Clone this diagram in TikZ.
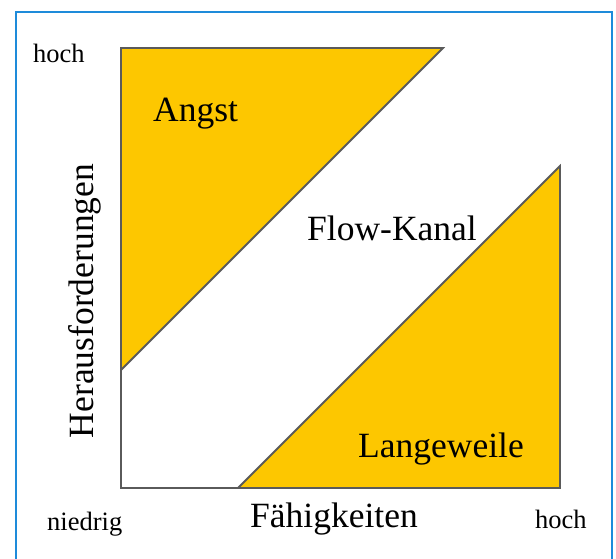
\documentclass[tikz,border=0pt]{standalone}
\usepackage{fontspec}
\setmainfont{Liberation Serif}
\definecolor{flowyellow}{HTML}{FDC700}
\definecolor{edgegray}{HTML}{5A5A5A}
\definecolor{framblue}{HTML}{1E8BDA}
\begin{document}
\begin{tikzpicture}[x=1pt,y=-1pt,
  zone/.style={fill=flowyellow,draw=edgegray,line width=1.8pt,line join=miter},
  axisline/.style={draw=edgegray,line width=1.8pt},
  big/.style={inner sep=0pt,anchor=base west,font=\fontsize{35.5}{40}\selectfont},
  small/.style={inner sep=0pt,anchor=base west,font=\fontsize{26.5}{30}\selectfont}]
\useasboundingbox (0,0) rectangle (616,559);
\fill[white] (0,0) rectangle (616,559);
% outer frame, open at the bottom
\draw[framblue,line width=2pt] (16,570) -- (16,12) -- (612,12) -- (612,570);
% corner points of the chart
\coordinate (tl) at (121,48);
\coordinate (bl) at (121,488);
\coordinate (br) at (560,488);
\coordinate (atr) at (443,48);
\coordinate (abl) at (121,370);
\coordinate (ltop) at (560,166);
\coordinate (lbl) at (238,488);
% axes
\draw[axisline] (abl) -- (bl) -- (lbl);
% anxiety zone
\draw[zone] (tl) -- (atr) -- (abl) -- cycle;
% boredom zone
\draw[zone] (lbl) -- (ltop) -- (br) -- cycle;
% labels
\node[big] (angst) at (153,122) {Angst};
\node[big] (flow) at (307,240) {Flow-Kanal};
\node[big] (lw) at (358,457) {Langeweile};
\node[big] (fh) at (250,527) {Fähigkeiten};
\node[big,anchor=base,rotate=90] (ha) at (93,301) {Herausforderungen};
\node[small] (hoch1) at (33,63) {hoch};
\node[small] (nied) at (47,530) {niedrig};
\node[small] (hoch2) at (535,528) {hoch};
\end{tikzpicture}
\end{document}
